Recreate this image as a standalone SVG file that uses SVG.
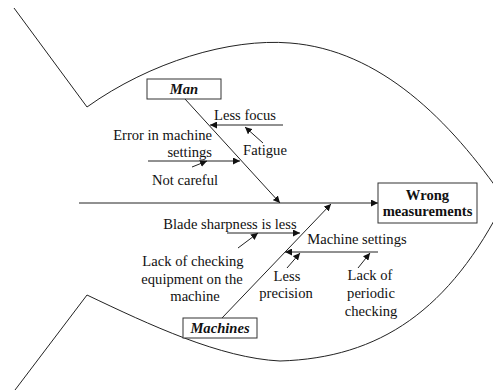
<svg xmlns="http://www.w3.org/2000/svg" width="493" height="391" viewBox="0 0 493 391">
<style>
.ln{stroke:#222;stroke-width:1;fill:none}
.ar{stroke:#222;stroke-width:1;fill:none;marker-end:url(#ah)}
.bx{fill:#fff;stroke:#333;stroke-width:1}
.t{font-family:'Liberation Serif','Times New Roman','DejaVu Serif',serif;font-size:14.6px;fill:#111}
.c{text-anchor:middle}
.e{text-anchor:end}
.b{font-weight:bold}
.bi{font-weight:bold;font-style:italic}
</style>
<defs>
<marker id="ah" viewBox="0 0 10 10" refX="10" refY="5" markerWidth="7" markerHeight="7" markerUnits="userSpaceOnUse" orient="auto">
<path d="M0,0 L10,5 L0,10 z" fill="#111"/>
</marker>
</defs>
<g id="fish">
<path class="ln" d="M14,8 L87,107 C150,62 230,38 290,43 C380,50 450,120 505,200"/>
<path class="ln" d="M15,390 L87,295 C150,325 220,358 280,361 C380,358 450,310 505,200"/>
</g>
<g id="connectors">
<line class="ar" x1="79" y1="203" x2="378" y2="203"/>
<line class="ar" x1="185" y1="99" x2="280" y2="203"/>
<line class="ar" x1="222" y1="318" x2="331" y2="204"/>
<line class="ar" x1="283" y1="125" x2="210" y2="125"/>
<line class="ar" x1="263" y1="143" x2="245" y2="127"/>
<line class="ar" x1="148" y1="161" x2="240" y2="161"/>
<line class="ar" x1="192" y1="167" x2="207" y2="161"/>
<line class="ar" x1="227" y1="233" x2="300" y2="233"/>
<line class="ar" x1="238" y1="248" x2="258" y2="233"/>
<line class="ar" x1="378" y1="252" x2="285" y2="252"/>
<line class="ar" x1="287" y1="268" x2="300" y2="253"/>
<line class="ar" x1="358" y1="268" x2="370" y2="253"/>
</g>
<g class="t">
<g id="wrong">
<rect class="bx" x="378" y="183" width="99" height="40"/>
<text class="c b" x="427.5" y="200">Wrong</text>
<text class="c b" x="427.5" y="216">measurements</text>
</g>
<g id="man">
<rect class="bx" x="147" y="79" width="74" height="20"/>
<text class="c bi" x="184" y="94">Man</text>
</g>
<g id="machines">
<rect class="bx" x="183" y="318" width="74" height="20"/>
<text class="c bi" x="220" y="333">Machines</text>
</g>
<g id="less-focus"><text class="c" x="245" y="120">Less focus</text></g>
<g id="fatigue"><text class="c" x="265" y="155">Fatigue</text></g>
<g id="error-settings">
<text class="e" x="212" y="140">Error in machine</text>
<text class="e" x="212" y="157">settings</text>
</g>
<g id="not-careful"><text class="c" x="185" y="185">Not careful</text></g>
<g id="blade"><text class="c" x="230" y="229">Blade sharpness is less</text></g>
<g id="lack-checking">
<text class="c" x="193" y="266">Lack of checking</text>
<text class="c" x="192" y="284">equipment on the</text>
<text class="c" x="195" y="301">machine</text>
</g>
<g id="machine-settings"><text class="c" x="357" y="244">Machine settings</text></g>
<g id="less-precision">
<text class="c" x="287" y="281">Less</text>
<text class="c" x="286" y="298">precision</text>
</g>
<g id="lack-periodic">
<text class="c" x="370" y="280">Lack of</text>
<text class="c" x="371" y="298">periodic</text>
<text class="c" x="371" y="316">checking</text>
</g>
</g>
</svg>
